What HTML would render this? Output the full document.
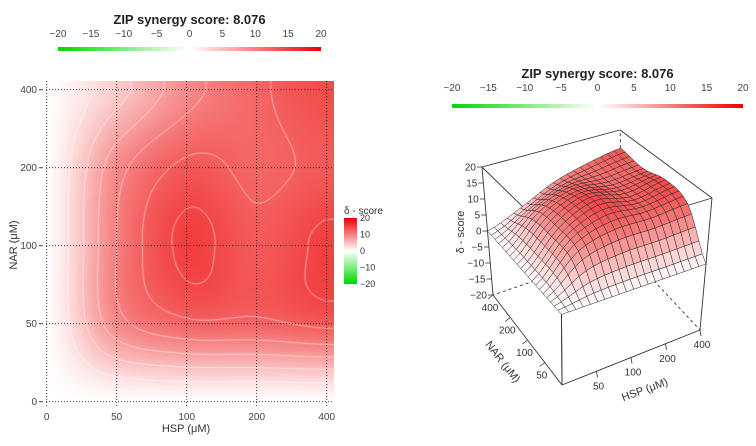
<!DOCTYPE html>
<html><head><meta charset="utf-8">
<style>
body{margin:0;background:#fff;width:756px;height:446px;overflow:hidden;font-family:"Liberation Sans",sans-serif;}
svg{position:absolute;left:0;top:0}
canvas{position:absolute}
</style></head>
<body>
<canvas id="hm" width="288" height="320" style="left:46px;top:81px"></canvas>
<svg id="s" width="756" height="446"></svg>
<script>
const hspLabels=['0','50','100','200','400'];
const narLabels=['0','50','100','200','400'];
// rows: NAR 0,50,100,200,400 ; cols: HSP 0,50,100,200,400
const row0=[0,0,0,0,0];
const row50=[0,9,12,12,13];
const row100=[0,10,15,13,15];
const row200=[0,9,13,12,13];
const row400=[0,4,9,12,14];
const scoreTicks=[-20,-15,-10,-5,0,5,10,15,20];
const legendTicks=[20,10,0,-10,-20];
const zTicks=[20,15,10,5,0,-5,-10,-15,-20];
const synergyScore='8.076';
const Z=[row0,row50,row100,row200,row400];

const NS='http://www.w3.org/2000/svg';
const svg=document.getElementById('s');
function el(tag,attrs,parent){const e=document.createElementNS(NS,tag);for(const k in attrs)e.setAttribute(k,attrs[k]);(parent||svg).appendChild(e);return e;}
function txt(x,y,s,size,anchor,extra){const t=el('text',Object.assign({x:x,y:y,'font-size':size,'text-anchor':anchor||'middle',fill:'#222'},extra||{}));t.textContent=s;return t;}

function cr(p0,p1,p2,p3,t){return 0.5*((2*p1)+(-p0+p2)*t+(2*p0-5*p1+4*p2-p3)*t*t+(-p0+3*p1-3*p2+p3)*t*t*t);}
function g(i,j){i=Math.max(0,Math.min(4,i));j=Math.max(0,Math.min(4,j));return Z[j][i];}
function interp(x,y){
  x=Math.max(0,Math.min(4,x));y=Math.max(0,Math.min(4,y));
  const ix=Math.min(3,Math.floor(x)),iy=Math.min(3,Math.floor(y));const tx=x-ix,ty=y-iy;
  const r=[];for(let k=-1;k<3;k++){const j=iy+k;r.push(cr(g(ix-1,j),g(ix,j),g(ix+1,j),g(ix+2,j),tx));}
  return cr(r[0],r[1],r[2],r[3],ty);
}
function col(v){let t=Math.max(-1,Math.min(1,v/20));
  if(t>=0)return [255-18*t,255*(1-t),255*(1-t)];
  t=-t;return [255*(1-t),255-40*t,255*(1-t)];}
function rgb(c){return 'rgb('+c.map(Math.round).join(',')+')';}

function colorbar(x0,x1,yb,ty,title,name){
  const gid='grad'+name;const d=el('defs',{});const lg=el('linearGradient',{id:gid,x1:0,x2:1,y1:0,y2:0},d);
  for(let i=0;i<=20;i++){const v=-20+2*i;el('stop',{offset:(i/20),'stop-color':rgb(col(v))},lg);}
  const t=txt((x0+x1)/2,ty,title,13,'middle',{'font-weight':'bold'});
  scoreTicks.forEach(v=>{const x=x0+(v+20)/40*(x1-x0);const l=txt(x,ty+13,String(v).replace('-','\u2212'),10,'middle',{fill:'#444'});});
  const r=el('rect',{x:x0,y:yb,width:x1-x0,height:4,fill:'url(#'+gid+')'});
}
colorbar(58,321,47,24,'ZIP synergy score: '+synergyScore,'colorbar-left');
colorbar(452,743,104,78,'ZIP synergy score: '+synergyScore,'colorbar-right');

const X0=46.7,DX=70,Y0=401.7,DY=78;
function sx(i){return X0+DX*i;} function sy(j){return Y0-DY*j;}
const cv=document.getElementById('hm');const ctx=cv.getContext('2d');const im=ctx.createImageData(288,320);
for(let py=0;py<320;py++)for(let px=0;px<288;px++){
  const X=46+px+0.5,Y=81+py+0.5;const v=interp((X-X0)/DX,(Y0-Y)/DY);const c=col(v);const k=(py*288+px)*4;
  im.data[k]=c[0];im.data[k+1]=c[1];im.data[k+2]=c[2];im.data[k+3]=255;}
ctx.putImageData(im,0,0);
(function(){const levels=[2.5,5,7.5,10,12.5,14.5];const step=4;const W=Math.ceil(288/step)+1,H=Math.ceil(320/step)+1;
 const val=(a,b)=>interp((46+a*step-X0)/DX,(Y0-(81+b*step))/DY);
 const vv=[];for(let b=0;b<H;b++){vv.push([]);for(let a=0;a<W;a++)vv[b].push(val(a,b));}
 ctx.strokeStyle='rgba(255,255,255,0.5)';ctx.lineWidth=1;
 levels.forEach(L=>{ctx.beginPath();
  for(let b=0;b<H-1;b++)for(let a=0;a<W-1;a++){
   const p=[[a,b,vv[b][a]],[a+1,b,vv[b][a+1]],[a+1,b+1,vv[b+1][a+1]],[a,b+1,vv[b+1][a]]];const pts=[];
   for(let e=0;e<4;e++){const A=p[e],B=p[(e+1)%4];if((A[2]-L)*(B[2]-L)<0){const t=(L-A[2])/(B[2]-A[2]);pts.push([(A[0]+(B[0]-A[0])*t)*step,(A[1]+(B[1]-A[1])*t)*step]);}}
   if(pts.length>=2){ctx.moveTo(pts[0][0],pts[0][1]);ctx.lineTo(pts[1][0],pts[1][1]);}
   if(pts.length==4){ctx.moveTo(pts[2][0],pts[2][1]);ctx.lineTo(pts[3][0],pts[3][1]);}
  }ctx.stroke();});})();
hspLabels.forEach((s,i)=>{const x=sx(i);
  const l=el('line',{x1:x,y1:81,x2:x,y2:408,stroke:'#222','stroke-width':0.9,'stroke-dasharray':'1,2'});
  const t=txt(x,420,s,10,'middle',{fill:'#444'});});
narLabels.forEach((s,j)=>{const y=sy(j);
  const l=el('line',{x1:46,y1:y,x2:334,y2:y,stroke:'#222','stroke-width':0.9,'stroke-dasharray':'1,2'});
  el('line',{x1:39,y1:y,x2:43,y2:y,stroke:'#444'});
  const t=txt(37,y+3.5,s,10,'end',{fill:'#444'});});
let tt=txt(186,432,'HSP (\u03bcM)',11,'middle',{fill:'#333'});
tt=txt(0,0,'NAR (\u03bcM)',11,'middle',{fill:'#333',transform:'translate(17,245) rotate(-90)'});
(function(){const d=el('defs',{});const lg=el('linearGradient',{id:'sideg',x1:0,x2:0,y1:0,y2:1},d);
 for(let i=0;i<=20;i++){const v=20-2*i;el('stop',{offset:i/20,'stop-color':rgb(col(v))},lg);}
 let t=txt(344,214,'\u03b4 - score',10,'start',{fill:'#333'});
 const r=el('rect',{x:344,y:218,width:13,height:66,fill:'url(#sideg)'});
 legendTicks.forEach(v=>{const y=218+(20-v)/40*66;const l=txt(360,y+3,String(v).replace('-','\u2212'),9,'start',{fill:'#333'});});})();

const C={'000':[562,385],'100':[700,330],'010':[493,295],'110':[625,250],'001':[561,244],'101':[712,198],'011':[482,167],'111':[620,130]};
function P(u,v,w){let x=0,y=0;for(const a of [0,1])for(const b of [0,1])for(const c of [0,1]){const wt=(a?u:1-u)*(b?v:1-v)*(c?w:1-w);const p=C[''+a+b+c];x+=wt*p[0];y+=wt*p[1];}return [x,y];}
function W(z){return (z+20)/40;}
function line3(a,b,attrs,name){const p=P(...a),q=P(...b);const l=el('line',Object.assign({x1:p[0],y1:p[1],x2:q[0],y2:q[1],stroke:'#333','stroke-width':0.9},attrs||{}));}
const dash={'stroke-dasharray':'3,3'};
line3([1,1,0],[1,1,1],dash,'box-hidden-edge');line3([1,1,0],[0,1,0],dash,'box-hidden-edge');line3([1,1,0],[1,0,0],dash,'box-hidden-edge');
line3([0,1,1],[1,1,1],{},'box-edge');line3([1,1,1],[1,0,1],{},'box-edge');line3([0,1,1],[0,0,1],{},'box-edge');line3([1,0,1],[0,0,1],{},'box-edge');
line3([0,1,0],[0,1,1],{},'box-edge');line3([1,0,0],[1,0,1],{},'box-edge');line3([0,0,0],[0,0,1],{},'box-edge');
const N=20;const quads=[];
for(let a=0;a<N;a++)for(let b=0;b<N;b++)quads.push([a,b]);
quads.sort((q,r)=>(r[0]+r[1])-(q[0]+q[1]));
const sg=el('g',{});
quads.forEach(([a,b])=>{const pts=[[a,b],[a+1,b],[a+1,b+1],[a,b+1]].map(([i,j])=>{const u=i/N,v=j/N;const z=interp(u*4,v*4);return [P(u,v,W(z)),z];});
  const zm=(pts[0][1]+pts[1][1]+pts[2][1]+pts[3][1])/4;const c=col(zm*0.95);
  const p=el('polygon',{points:pts.map(p=>p[0].join(',')).join(' '),fill:rgb(c),stroke:'#222','stroke-width':0.5},sg);
  });
line3([0,0,0],[0,0,0.5],{},'box-edge');line3([0,0,0],[1,0,0],{},'box-edge');line3([0,0,0],[0,1,0],{},'box-edge');
zTicks.forEach(z=>{const p=P(0,1,W(z));el('line',{x1:p[0]-5,y1:p[1],x2:p[0],y2:p[1],stroke:'#333','stroke-width':0.8});
  const t=txt(p[0]-6,p[1]+3.5,String(z).replace('-','\u2212'),10,'end',{fill:'#333'});});
tt=txt(0,0,'\u03b4 - score',11,'middle',{fill:'#333',transform:'translate(464,232) rotate(-90)'});
narLabels.forEach((s,j)=>{if(j==0)return;const p=P(0,j/4,0);el('line',{x1:p[0],y1:p[1],x2:p[0]-5,y2:p[1]+4,stroke:'#333','stroke-width':0.8});
  const t=txt(p[0]-3,p[1]+16,s,10,'middle',{fill:'#333'});});
hspLabels.forEach((s,i)=>{if(i==0)return;const p=P(i/4,0,0);el('line',{x1:p[0],y1:p[1],x2:p[0]+1,y2:p[1]+6,stroke:'#333','stroke-width':0.8});
  const t=txt(p[0]+2,p[1]+18,s,10,'middle',{fill:'#333'});});
tt=txt(0,0,'NAR (\u03bcM)',11,'middle',{fill:'#333',transform:'translate(500,364) rotate(52)'});
tt=txt(0,0,'HSP (\u03bcM)',11,'middle',{fill:'#333',transform:'translate(646,393) rotate(-20)'});
</script>
</body></html>
